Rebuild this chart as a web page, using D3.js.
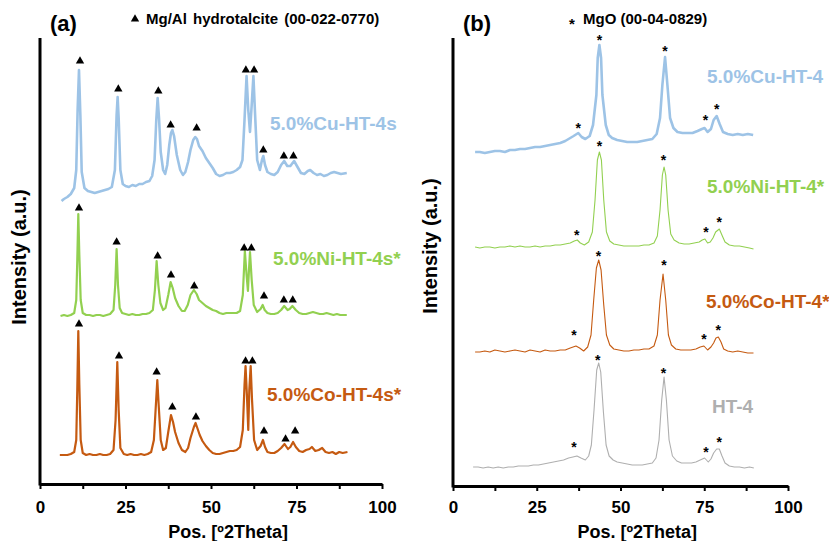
<!DOCTYPE html>
<html>
<head>
<meta charset="utf-8">
<script src="https://cdn.jsdelivr.net/npm/d3@7"></script>
<style>
body { margin: 0; background: #fff; }
text { font-family: Arial, "Liberation Sans", sans-serif; font-weight: bold; }
</style>
</head>
<body>
<div id="chart"></div>
<script>
// ---- data: [2theta, intensity (a.u.)], patterns already stacked ----
const cuA = [[6.3,299],[7,301],[8,303],[9,306],[10,312],[10.6,330],[11.0,390],[11.4,430],[11.8,385],[12.2,328],[13,312],[14,309],[15,308],[16,307],[17,308],[18,309],[19,310],[20,311],[21,313],[21.9,330],[22.4,385],[22.7,403],[23.0,382],[23.5,330],[24.2,316],[25,314],[26,313],[27,315],[28,314],[29,316],[30,316],[31,318],[32,319],[32.8,324],[33.5,340],[34.0,380],[34.4,402],[34.8,382],[35.3,348],[36,330],[36.6,326],[37.2,335],[37.8,355],[38.3,367],[38.7,370],[39.2,364],[40,345],[41,330],[41.8,325],[42.5,328],[43.3,338],[44,350],[44.8,360],[45.4,363],[45.9,361],[46.5,354],[47.5,349],[48.5,342],[49.5,337],[50.5,332],[51.5,326],[52.5,324],[53.5,325],[54.5,327],[55.5,327],[56.5,328],[57.5,330],[58.5,333],[59.2,340],[59.8,380],[60.4,424],[60.9,390],[61.4,368],[61.9,395],[62.4,424],[62.9,385],[63.5,340],[64.3,330],[64.9,340],[65.3,344],[65.8,335],[66.5,328],[67.5,326],[68.5,325],[69.5,328],[70.5,335],[71.4,339],[72.3,334],[73.2,334],[74.3,339],[75.3,333],[76.3,327],[77.3,326],[78.3,329],[79.0,330],[80,327],[81,325],[82,326],[83,324],[84,325],[85,327],[86,328],[87,327],[88,326],[89.7,327]];
const niA = [[6,184],[7,185],[8,184],[9,185],[10,187],[10.6,200],[10.9,240],[11.2,286],[11.5,245],[11.9,200],[12.5,187],[13.5,185],[14.5,185],[15.5,184],[16.5,185],[17.5,185],[18.5,184],[19.5,185],[20.5,186],[21.5,190],[22.0,215],[22.4,251],[22.8,215],[23.3,192],[24,187],[25,186],[26,185],[27,186],[28,185],[29,185],[30,186],[31,186],[32,187],[33,190],[33.6,210],[34.1,239],[34.6,215],[35.2,197],[36,190],[36.7,192],[37.5,205],[38.2,218],[38.8,212],[39.5,202],[40.5,194],[41.5,189],[42.3,189],[43.2,195],[44,205],[45,210],[45.8,206],[46.5,200],[47.5,197],[48.5,194],[49.5,192],[50.5,190],[51.5,189],[52.5,187],[53.5,186],[54.5,187],[55.5,187],[56.5,187],[57.5,187],[58.5,189],[59.3,205],[59.9,249],[60.4,225],[60.8,209],[61.1,230],[61.4,248],[61.9,220],[62.5,195],[63.5,188],[64.5,191],[65.1,195],[65.7,190],[66.5,187],[67.5,186],[68.5,186],[69.5,187],[70.5,190],[71.4,194],[72.4,190],[73.0,191],[73.8,194],[74.8,190],[75.8,187],[76.8,186],[77.8,186],[78.8,187],[79.8,188],[80.8,187],[81.8,186],[82.8,186],[83.8,187],[84.8,186],[85.8,185],[86.8,186],[87.8,185],[89.7,185]];
const coA = [[5.8,45],[7,45],[8,45],[9,46],[10,48],[10.6,60],[10.9,110],[11.2,169],[11.5,115],[11.9,60],[12.5,47],[13.5,45],[14.5,46],[15.5,45],[16.5,45],[17.5,46],[18.5,45],[19.5,45],[20.5,46],[21.5,50],[22.1,80],[22.6,138],[23.0,90],[23.5,52],[24.5,46],[25.5,45],[26.5,46],[27.5,45],[28.5,45],[29.5,46],[30.5,45],[31.5,46],[32.5,48],[33.3,60],[33.8,90],[34.3,120],[34.7,95],[35.3,60],[36,50],[36.8,52],[37.5,68],[38.3,85],[38.9,78],[39.5,68],[40.5,57],[41.5,50],[42.5,48],[43.3,52],[44,62],[45,73],[45.5,77],[46,72],[46.7,65],[47.5,59],[48.5,54],[49.5,50],[50.5,47],[51.5,46],[52.5,46],[53.5,47],[54.5,48],[55.5,49],[56.5,49],[57.5,50],[58.5,53],[59.3,70],[59.8,115],[60.1,134],[60.5,105],[60.9,70],[61.2,110],[61.6,134],[62.0,100],[62.6,60],[63.5,50],[64.5,54],[65.2,60],[65.8,53],[66.5,48],[67.5,47],[68.5,47],[69.5,49],[70.5,52],[71.5,56],[72.5,51],[73.2,53],[74.0,58],[74.8,53],[75.8,49],[76.8,48],[77.8,50],[78.8,51],[79.5,53],[80.5,49],[81.5,50],[82.5,52],[83.5,48],[84.5,47],[85.5,48],[86.5,46],[87.5,48],[88.5,47],[89.9,48]];

const cuB = [[6.6,348],[8,348],[9.5,347],[11,348],[12.5,349],[14,349],[15.5,348],[17,350],[18.5,350],[20,351],[21.5,351],[23,352],[24.5,353],[26,353],[27.5,354],[29,355],[30.5,356],[32,357],[33.5,359],[35,362],[36,364],[37.4,367],[38.4,363],[39.5,361],[40.8,364],[41.8,375],[42.8,405],[43.2,442],[43.7,455],[44.2,442],[44.6,405],[45.6,375],[46.5,365],[47.5,362],[49,360],[50.5,359],[52,358],[53.5,358],[55,358],[56.5,359],[58,360],[59.5,361],[60.8,366],[61.8,382],[62.5,415],[63.3,443],[64,415],[64.8,382],[65.8,372],[67,368],[68.5,367],[70,367],[71.5,367],[73,369],[74.3,371],[75.1,372],[76,368],[77,371],[77.8,380],[78.7,384],[79.6,376],[80.6,368],[82,366],[83.5,365],[85,366],[86.5,365],[88,366],[89.6,365]];
const niB = [[6.6,253],[8,252],[9.5,253],[11,253],[12.5,252],[14,253],[15.5,253],[17,254],[18.5,253],[20,254],[21.5,253],[23,253],[24.5,254],[26,253],[27.5,254],[29,254],[30.5,255],[32,255],[33.5,256],[35,257],[36.2,259],[37.1,260],[38,257],[39.2,255],[40.5,258],[41.6,268],[42.4,300],[43.1,340],[43.7,348],[44.3,340],[45.0,300],[45.8,268],[46.8,259],[48,256],[49.5,255],[51,254],[52.5,254],[54,254],[55.5,254],[57,255],[58.5,255],[60,257],[61,264],[61.8,290],[62.5,325],[63.0,333],[63.5,325],[64.2,290],[65,266],[66,260],[67.5,257],[69,256],[70.5,256],[72,257],[73.5,258],[74.4,260],[75.2,261],[76,257],[76.8,258],[77.6,262],[78.4,268],[79.5,271],[80.4,264],[81.2,258],[82.5,255],[84,254],[85.5,254],[87,253],[88.5,252],[89.7,251]];
const coB = [[6.6,148],[8,148],[9.5,149],[11,148],[12.5,150],[14,149],[15.5,148],[17,149],[18.5,150],[20,149],[21.5,148],[23,150],[24.5,149],[26,148],[27.5,150],[29,149],[30.5,149],[32,150],[33.5,150],[35,152],[36.7,154],[37.8,152],[39,149],[40.2,153],[41.2,165],[42.0,200],[42.8,232],[43.5,240],[44.2,230],[45.0,195],[45.8,165],[46.8,155],[48,151],[49.5,150],[51,149],[52.5,149],[54,150],[55.5,150],[57,151],[58.5,151],[60,154],[61,165],[61.8,200],[62.7,226],[63.5,200],[64.3,165],[65.2,155],[66.5,151],[68,150],[69.5,150],[71,150],[72.5,151],[73.8,153],[74.9,154],[76,150],[77,153],[77.8,157],[78.5,162],[79.2,163],[80,158],[80.8,151],[82,149],[83.5,148],[85,149],[86.5,148],[88,147],[89.7,147]];
const htB = [[6,33],[7.5,33],[9,32],[10.5,33],[12,32],[13.5,33],[15,32],[16.5,33],[18,33],[19.5,34],[21,34],[22.5,34],[24,35],[25.5,35],[27,36],[28.5,37],[30,38],[31.5,39],[33,40],[34.5,42],[35.8,43],[37,44],[38.2,42],[39.5,40],[40.5,44],[41.3,55],[42.1,90],[42.9,130],[43.5,137],[44.1,128],[44.9,88],[45.7,55],[46.6,44],[47.8,40],[49,38],[50.5,37],[52,36],[53.5,35],[55,35],[56.5,35],[58,36],[59.5,37],[60.6,42],[61.5,60],[62.3,100],[63.0,123],[63.7,100],[64.5,60],[65.5,44],[66.8,39],[68.2,37],[69.7,37],[71.2,37],[72.5,38],[73.8,40],[75.1,42],[76.2,38],[77.0,41],[77.8,47],[78.7,51],[79.5,51],[80.3,44],[81.2,37],[82.5,34],[84,33],[85.5,33],[87,32],[88.5,33],[89.8,32]];

// hydrotalcite reflections (triangles) and MgO reflections (asterisks)
const triCuA = [[11.7,439],[22.9,411],[34.6,409],[38.2,375],[45.8,372],[60.2,430],[62.6,430],[65.3,350],[71.3,344],[74.1,344]];
const triNiA = [[11.4,292],[22.4,258],[34.4,244],[38.3,225],[45.1,214],[59.7,252],[61.8,252],[65.5,204],[71.3,200],[73.9,200]];
const triCoA = [[11.4,176],[23.1,144],[34.1,128],[38.7,93],[45.6,83],[60.1,139],[62.1,139],[65.5,69],[71.8,61],[74.6,69]];
const starCuB = [[43.7,463],[63.3,452],[37.4,375],[75.4,383],[78.7,394]];
const starNiB = [[43.7,357],[62.8,343],[36.9,268],[75.5,271],[79.5,281]];
const starCoB = [[43.4,247],[63.0,238],[36.1,168],[74.9,164],[79.2,173]];
const starHtB = [[43.2,143],[62.8,130],[36.1,56],[75.5,51],[79.5,61]];

const labelsA = ["5.0%Cu-HT-4s", "5.0%Ni-HT-4s*", "5.0%Co-HT-4s*"];
const labelsB = ["5.0%Cu-HT-4", "5.0%Ni-HT-4*", "5.0%Co-HT-4*", "HT-4"];
const xTickLabels = [0, 25, 50, 75, 100];
const xMinorTicks = [12.5, 37.5, 62.5, 87.5];

// colours
const cuColor = "#9dc3e6", niColor = "#92d050", coColor = "#c55a11", htColor = "#afafaf";

var svg = d3.select("#chart").append("svg")
    .attr("width", 829)
    .attr("height", 541);

function drawPanel(p) {
    var x = d3.scaleLinear().domain([0, 100]).range([p.left, p.right]);
    var y = d3.scaleLinear().domain(p.yDomain).range([p.bottom, 38]);
    var g = svg.append("g");

    var line = d3.line().x(d => x(d[0])).y(d => y(d[1]));
    p.series.forEach(s => {
        g.append("path")
            .datum(s.data)
            .attr("fill", "none")
            .attr("stroke", s.color)
            .attr("stroke-width", s.width)
            .attr("stroke-linejoin", "round")
            .attr("d", line);
    });

    // x axis
    var xAxis = g.append("g")
        .attr("transform", `translate(0, ${p.bottom})`)
        .call(d3.axisBottom(x)
            .tickValues(xTickLabels.concat(xMinorTicks))
            .tickSize(5).tickSizeOuter(0).tickPadding(p.pad)
            .tickFormat(d => xTickLabels.includes(d) ? d : ""));
    xAxis.select(".domain").attr("stroke-width", 3);
    xAxis.selectAll(".tick line").attr("stroke-width", 2);
    xAxis.selectAll(".tick text").attr("font-size", 17).attr("fill", "#000")
        .style("font-family", "Arial, 'Liberation Sans', sans-serif");

    // y axis, no ticks
    g.append("line")
        .attr("x1", p.left).attr("x2", p.left)
        .attr("y1", 38).attr("y2", p.bottom + 1.5)
        .attr("stroke", "#000").attr("stroke-width", 3);

    g.append("text")
        .attr("x", x(55)).attr("y", 538)
        .attr("text-anchor", "middle").attr("font-size", 18)
        .text("Pos. [º2Theta]");

    g.append("text")
        .attr("transform", `translate(${p.left - p.yTitleOff}, ${p.yTitleY}) rotate(-90)`)
        .attr("text-anchor", "middle").attr("font-size", 20)
        .text("Intensity (a.u.)");

    g.append("text")
        .attr("x", p.left + 10).attr("y", 31)
        .attr("font-size", 22)
        .text(p.tag);

    return {x: x, y: y, g: g};
}

// ---- panel (a) ----
var a = drawPanel({
    left: 40, right: 382, bottom: 484, yDomain: [16, 462], pad: 12,
    yTitleOff: 14, yTitleY: 257, tag: "(a)",
    series: [
        {data: cuA, color: cuColor, width: 2.6},
        {data: niA, color: niColor, width: 2.2},
        {data: coA, color: coColor, width: 2.2}
    ]
});

var tri = d3.symbol().type(d3.symbolTriangle).size(30);
[triCuA, triNiA, triCoA].forEach(arr => {
    a.g.selectAll(null).data(arr).enter().append("path")
        .attr("d", tri)
        .attr("transform", d => `translate(${a.x(d[0])}, ${a.y(d[1])})`)
        .attr("fill", "#000");
});

var labelPosA = [[270, 130], [273, 265], [267, 401]];
[cuColor, niColor, coColor].forEach((c, i) => {
    a.g.append("text")
        .attr("x", labelPosA[i][0]).attr("y", labelPosA[i][1])
        .attr("font-size", 19).attr("fill", c)
        .text(labelsA[i]);
});

svg.append("path").attr("d", tri).attr("transform", "translate(135, 19)").attr("fill", "#000");
svg.append("text").attr("x", 146).attr("y", 24).attr("font-size", 15)
    .style("word-spacing", "2px")
    .text("Mg/Al hydrotalcite (00-022-0770)");

// ---- panel (b) ----
var b = drawPanel({
    left: 453, right: 788, bottom: 486, yDomain: [14, 462], pad: 10,
    yTitleOff: 16, yTitleY: 246, tag: "(b)",
    series: [
        {data: cuB, color: cuColor, width: 2.6},
        {data: niB, color: niColor, width: 1.1},
        {data: coB, color: coColor, width: 1.1},
        {data: htB, color: htColor, width: 1.1}
    ]
});

[starCuB, starNiB, starCoB, starHtB].forEach(arr => {
    b.g.selectAll(null).data(arr).enter().append("text")
        .attr("x", d => b.x(d[0]))
        .attr("y", d => b.y(d[1]))
        .attr("dy", "0.57em")
        .attr("text-anchor", "middle")
        .attr("font-size", 14)
        .text("*");
});

var labelPosB = [[707, 83], [707, 193], [706, 308], [712, 413]];
[cuColor, niColor, coColor, htColor].forEach((c, i) => {
    b.g.append("text")
        .attr("x", labelPosB[i][0]).attr("y", labelPosB[i][1])
        .attr("font-size", 19).attr("fill", c)
        .text(labelsB[i]);
});

svg.append("text").attr("x", 572).attr("y", 20).attr("dy", "0.57em")
    .attr("text-anchor", "middle").attr("font-size", 15).text("*");
svg.append("text").attr("x", 583).attr("y", 24).attr("font-size", 15)
    .text("MgO (00-04-0829)");
</script>
</body>
</html>
